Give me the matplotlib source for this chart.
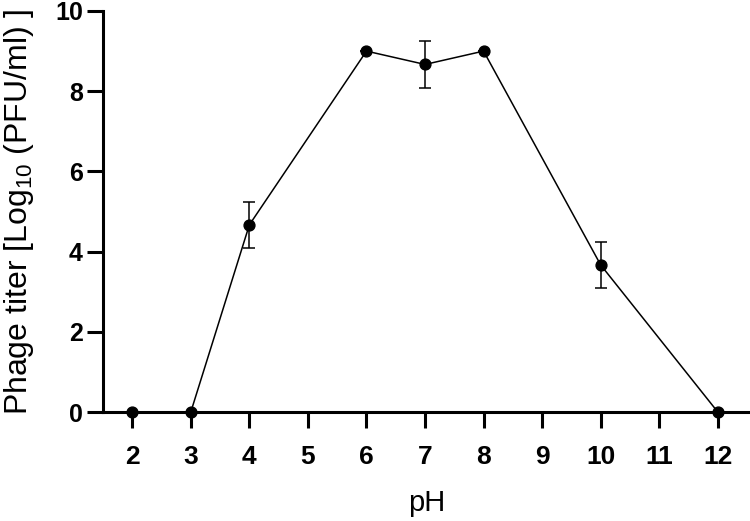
"""
plot.py - phage titer stability across pH.
"""

import matplotlib
matplotlib.use("Agg")
import matplotlib.pyplot as plt

OUTPUT_PATH = "out.png"

ph = [2, 3, 4, 6, 7, 8, 10, 12]
titer = [0, 0, 4.667, 9.0, 8.667, 9.0, 3.667, 0]
titer_sd = [0, 0, 0.577, 0, 0.577, 0, 0.577, 0]
x_ticks = [2, 3, 4, 5, 6, 7, 8, 9, 10, 11, 12]
y_ticks = [0, 2, 4, 6, 8, 10]

plt.rcParams["font.family"] = ["Liberation Sans", "DejaVu Sans"]
plt.rcParams["mathtext.fontset"] = "custom"
plt.rcParams["mathtext.rm"] = "Liberation Sans"
plt.rcParams["mathtext.default"] = "rm"

fig = plt.figure(figsize=(7.5, 5.21), dpi=100)
ax = fig.add_axes([0.1373, 0.2092, 0.8627, 0.7697])

ax.errorbar(ph, titer, yerr=titer_sd, color="black", linewidth=1.1,
            elinewidth=1.1, capsize=4.3, capthick=1.1,
            marker="o", markersize=7.8, clip_on=False, zorder=3)

ax.set_xlim(1.5, 12.55)
ax.set_ylim(0, 10)
ax.set_xticks(x_ticks)
ax.set_yticks(y_ticks)

for lbl in ax.get_xticklabels():
    lbl.set_fontweight("bold")
    lbl.set_fontsize(19)
for lbl in ax.get_yticklabels():
    lbl.set_fontweight("bold")
    lbl.set_fontsize(18)

ax.tick_params(axis="both", width=2.2, length=11.5)
ax.tick_params(axis="x", pad=12)
ax.tick_params(axis="y", pad=3)

ax.set_xlabel("pH", fontsize=21, labelpad=15)
ax.set_ylabel(r"Phage titer [Log$_{10}$ (PFU/ml) ]", fontsize=23, labelpad=14)

for side in ("top", "right"):
    ax.spines[side].set_visible(False)
for side in ("left", "bottom"):
    ax.spines[side].set_linewidth(2.2)

fig.savefig(OUTPUT_PATH, dpi=100)
